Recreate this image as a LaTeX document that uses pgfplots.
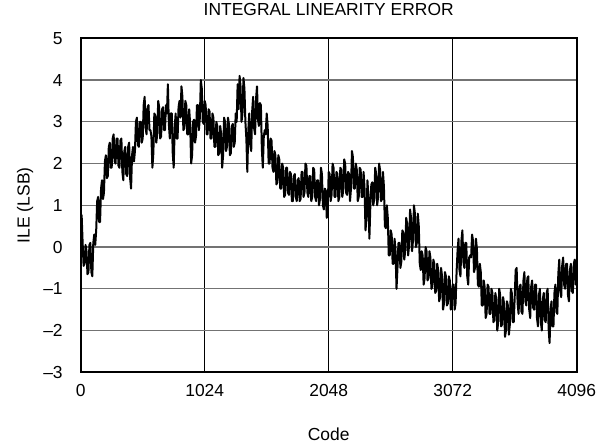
\documentclass[border=0pt]{standalone}
\usepackage{pgfplots}
\pgfplotsset{compat=1.18}
\usepackage{fontspec}
\setmainfont{Liberation Sans}
\begin{document}
\fontsize{17.5}{21}\selectfont
\begin{tikzpicture}
\begin{axis}[
  scale only axis,
  width=496bp, height=334bp,
  at={(0,0)}, anchor=south west,
  xmin=0, xmax=4096, ymin=-3, ymax=5,
  xtick={0,1024,2048,3072,4096},
  xticklabels={0,1024,2048,3072,4096},
  ytick={-3,-2,-1,0,1,2,3,4,5},
  yticklabels={\textendash3,\textendash2,\textendash1,0,1,2,3,4,5},
  major tick length=0pt,
  xticklabel style={yshift=-6.5bp},
  yticklabel style={xshift=-12bp},
  ymajorgrids, xmajorgrids,
  y grid style={draw=black!55, line width=1.2bp},
  x grid style={draw=black, line width=1bp},
  axis line style={line width=2.2bp},
  title={INTEGRAL LINEARITY ERROR},
  title style={at={(axis description cs:0.5,1.05)}, anchor=base},
  xlabel={Code},
  xlabel style={at={(axis description cs:0.5,-0.2027)}, anchor=base},
  ylabel={ILE (LSB)},
  ylabel style={at={(axis description cs:-0.1032,0.5)}, anchor=base, rotate=0},
  scaled ticks=false,
]
\addplot[black, line width=2bp, line join=round] coordinates {
(0,0.8)(8,0.75)(16,0.1)(24,-0.45)(32,-0.4)(40,0.05)(48,-0.1)(56,-0.65)
(64,-0.6)(72,0.05)(80,0.1)(88,-0.6)(96,-0.7)(104,0.1)(112,0.3)(120,0.05)
(128,0.4)(136,1.1)(144,1.2)(152,0.6)(160,0.6)(168,1.4)(176,1.6)(184,1.15)
(192,1.3)(200,2.05)(208,2.2)(216,1.65)(224,1.7)(232,2.4)(240,2.5)(248,1.9)
(256,1.9)(264,2.6)(272,2.7)(280,2.05)(288,2.0)(296,2.6)(304,2.6)(312,1.95)
(320,1.9)(328,2.55)(336,2.6)(344,1.8)(352,1.6)(360,2.3)(368,2.4)(376,1.75)
(384,1.7)(392,2.4)(400,2.5)(408,1.65)(416,1.4)(424,2.2)(432,2.4)(440,2.05)
(448,2.3)(456,3.0)(464,3.1)(472,2.45)(480,2.4)(488,3.0)(496,3.0)(504,2.5)
(512,2.6)(520,3.4)(528,3.6)(536,2.85)(544,2.7)(552,3.35)(560,3.4)(568,2.8)
(576,2.8)(584,2.65)(592,1.9)(600,2.25)(608,3.2)(616,3.15)(624,2.5)(632,2.7)
(640,3.5)(648,3.35)(656,2.6)(664,2.65)(672,3.3)(680,3.35)(688,2.8)(696,2.8)
(704,3.4)(712,3.2)(720,3.9)(728,2.95)(736,2.6)(744,3.2)(752,3.2)(760,2.25)
(768,1.9)(776,2.85)(784,3.2)(792,2.6)(800,2.6)(808,3.35)(816,3.5)(824,3.1)
(832,3.85)(840,3.6)(848,2.8)(856,2.85)(864,3.5)(872,3.4)(880,2.7)(888,2.7)
(896,3.3)(904,2.95)(912,2.0)(920,2.2)(928,3.0)(936,3.05)(944,2.5)(952,2.65)
(960,3.4)(968,3.4)(976,2.8)(984,3.1)(992,4.0)(1000,3.8)(1008,3.0)(1016,2.95)
(1024,3.5)(1032,3.4)(1040,2.7)(1048,2.7)(1056,3.3)(1064,3.25)(1072,2.6)(1080,2.6)
(1088,3.2)(1096,3.1)(1104,2.4)(1112,2.4)(1120,3.0)(1128,2.9)(1136,2.2)(1144,2.25)
(1152,2.9)(1160,2.7)(1168,1.9)(1176,2.2)(1184,3.1)(1192,3.0)(1200,2.3)(1208,2.4)
(1216,3.1)(1224,2.95)(1232,2.2)(1240,2.25)(1248,2.9)(1256,2.95)(1264,2.4)(1272,2.5)
(1280,3.2)(1288,3.0)(1296,3.9)(1304,3.3)(1312,4.1)(1320,3.85)(1328,3.0)(1336,3.2)
(1344,4.05)(1352,3.8)(1360,3.0)(1368,2.6)(1376,1.8)(1384,2.8)(1392,3.2)(1400,2.45)
(1408,2.3)(1416,3.25)(1424,3.6)(1432,2.85)(1440,2.7)(1448,3.55)(1456,3.85)(1464,3.05)
(1472,2.9)(1480,3.45)(1488,3.4)(1496,2.35)(1504,1.9)(1512,2.65)(1520,2.8)(1528,2.7)
(1536,3.2)(1544,2.9)(1552,2.0)(1560,2.0)(1568,2.6)(1576,2.55)(1584,1.9)(1592,1.8)
(1600,2.3)(1608,2.2)(1616,1.5)(1624,1.55)(1632,2.2)(1640,2.1)(1648,1.4)(1656,1.4)
(1664,2.0)(1672,1.9)(1680,1.2)(1688,1.25)(1696,1.9)(1704,1.9)(1712,1.3)(1720,1.25)
(1728,1.8)(1736,1.75)(1744,1.1)(1752,1.1)(1760,1.7)(1768,1.75)(1776,1.2)(1784,1.1)
(1792,1.6)(1800,1.65)(1808,1.1)(1816,1.15)(1824,1.8)(1832,1.8)(1840,1.2)(1848,1.3)
(1856,2.0)(1864,1.95)(1872,1.3)(1880,1.2)(1888,1.7)(1896,1.7)(1904,1.1)(1912,1.2)
(1920,1.9)(1928,1.85)(1936,1.2)(1944,1.1)(1952,1.6)(1960,1.6)(1968,1.0)(1976,1.15)
(1984,1.9)(1992,1.75)(2000,1.0)(2008,0.9)(2016,1.4)(2024,1.35)(2032,0.7)(2040,0.95)
(2048,1.8)(2056,1.75)(2064,1.1)(2072,1.25)(2080,2.0)(2088,1.9)(2096,1.2)(2104,1.2)
(2112,1.8)(2120,1.75)(2128,1.1)(2136,1.2)(2144,1.9)(2152,1.85)(2160,1.2)(2168,1.35)
(2176,2.1)(2184,2.0)(2192,1.3)(2200,1.25)(2208,1.8)(2216,1.75)(2224,1.1)(2232,1.4)
(2240,2.3)(2248,2.15)(2256,1.4)(2264,1.4)(2272,2.0)(2280,1.85)(2288,1.1)(2296,1.2)
(2304,1.9)(2312,1.85)(2320,1.2)(2328,1.2)(2336,1.8)(2344,1.4)(2352,0.4)(2360,0.7)
(2368,1.6)(2376,1.2)(2384,0.2)(2392,1.0)(2400,1.5)(2408,1.55)(2416,1.0)(2424,1.15)
(2432,1.9)(2440,1.75)(2448,1.0)(2456,1.2)(2464,2.0)(2472,1.85)(2480,1.1)(2488,1.15)
(2496,1.8)(2504,1.45)(2512,0.5)(2520,0.45)(2528,1.0)(2536,0.7)(2544,-0.2)(2552,-0.2)
(2560,0.4)(2568,0.3)(2576,-0.4)(2584,-0.4)(2592,0.2)(2600,-0.1)(2608,-1.0)(2616,-0.5)
(2624,0.1)(2632,0.1)(2640,-0.5)(2648,-0.35)(2656,0.4)(2664,0.35)(2672,-0.3)(2680,-0.1)
(2688,0.7)(2696,0.55)(2704,-0.2)(2712,0.05)(2720,0.9)(2728,0.7)(2736,-0.1)(2744,0.15)
(2752,1.0)(2760,0.8)(2768,0.0)(2776,0.1)(2784,0.8)(2792,0.5)(2800,-0.4)(2808,-0.55)
(2816,-0.1)(2824,-0.2)(2832,-0.9)(2840,-0.75)(2848,0.0)(2856,-0.1)(2864,-0.8)(2872,-0.75)
(2880,-0.1)(2888,-0.25)(2896,-1.0)(2904,-0.95)(2912,-0.3)(2920,-0.4)(2928,-1.1)(2936,-1.05)
(2944,-0.4)(2952,-0.55)(2960,-1.3)(2968,-1.2)(2976,-0.5)(2984,-0.7)(2992,-1.5)(3000,-1.35)
(3008,-0.6)(3016,-0.7)(3024,-1.4)(3032,-1.35)(3040,-0.7)(3048,-0.8)(3056,-1.5)(3064,-1.3)
(3072,-0.9)(3080,-0.9)(3088,-1.5)(3096,-1.35)(3104,-0.6)(3112,-0.1)(3120,0.2)(3128,-0.55)
(3136,-0.7)(3144,0.15)(3152,0.4)(3160,-0.35)(3168,-0.5)(3176,0.1)(3184,0.1)(3192,-0.7)
(3200,-0.9)(3208,-0.25)(3216,-0.2)(3224,-0.25)(3232,0.3)(3240,0.15)(3248,-0.6)(3256,-0.5)
(3264,0.2)(3272,-0.05)(3280,-0.9)(3288,-0.95)(3296,-0.4)(3304,-0.6)(3312,-1.4)(3320,-1.4)
(3328,-0.8)(3336,-0.95)(3344,-1.7)(3352,-1.6)(3360,-0.9)(3368,-0.95)(3376,-1.6)(3384,-1.6)
(3392,-1.0)(3400,-1.1)(3408,-1.8)(3416,-1.75)(3424,-1.1)(3432,-1.25)(3440,-2.0)(3448,-1.8)
(3456,-1.0)(3464,-1.15)(3472,-1.9)(3480,-1.85)(3488,-1.2)(3496,-1.35)(3504,-2.15)(3512,-2.0)
(3520,-1.3)(3528,-1.4)(3536,-2.1)(3544,-1.85)(3552,-1.0)(3560,-1.1)(3568,-1.8)(3576,-1.8)
(3584,-1.2)(3592,-0.55)(3600,-0.5)(3608,-1.35)(3616,-1.6)(3624,-0.95)(3632,-0.9)(3640,-1.55)
(3648,-1.6)(3656,-0.8)(3664,-0.6)(3672,-1.3)(3680,-1.4)(3688,-0.75)(3696,-0.7)(3704,-1.5)
(3712,-1.7)(3720,-0.95)(3728,-0.8)(3736,-1.45)(3744,-1.5)(3752,-0.9)(3760,-0.9)(3768,-1.7)
(3776,-1.9)(3784,-1.15)(3792,-1.0)(3800,-1.8)(3808,-2.0)(3816,-1.25)(3824,-1.1)(3832,-1.75)
(3840,-1.8)(3848,-1.1)(3856,-1.0)(3864,-1.95)(3872,-2.3)(3880,-1.5)(3888,-1.3)(3896,-1.9)
(3904,-1.9)(3912,-1.1)(3920,-0.9)(3928,-1.55)(3936,-1.6)(3944,-0.65)(3952,-0.3)(3960,-1.05)
(3968,-1.2)(3976,-0.45)(3984,-0.25)(3992,-0.9)(4000,-1.0)(4008,-0.4)(4016,-0.4)(4024,-1.15)
(4032,-1.3)(4040,-0.55)(4048,-0.4)(4056,-1.05)(4064,-1.1)(4072,-0.4)(4080,-0.3)(4088,-0.9)
(4095,-0.6)
};
\end{axis}
\pgfresetboundingbox
\path (-80.7bp,-73.7bp) rectangle (532.3bp,372.3bp);
\end{tikzpicture}
\end{document}
